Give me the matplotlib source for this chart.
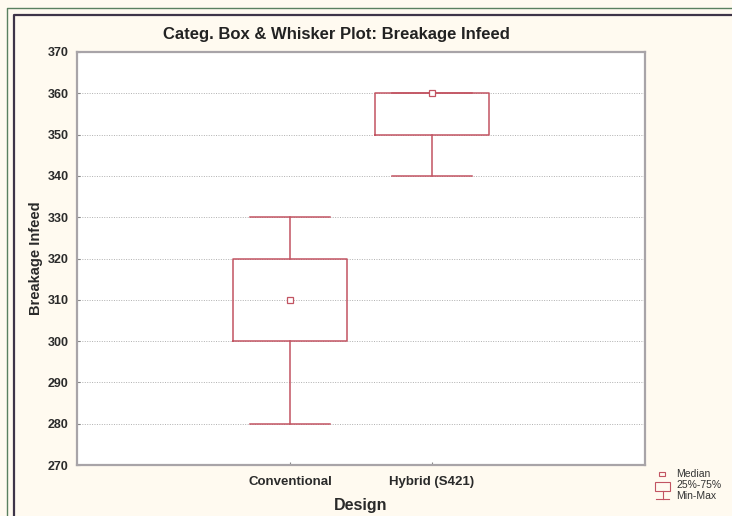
import matplotlib
matplotlib.use("Agg")
from matplotlib import pyplot as plt
from matplotlib.patches import Rectangle
from matplotlib.lines import Line2D

plt.rcParams["font.family"] = ["Liberation Sans", "DejaVu Sans"]

designs = ["Conventional", "Hybrid (S421)"]
mins = [280, 340]
q1s = [300, 350]
medians = [310, 360]
q3s = [320, 360]
maxs = [330, 360]
yticks = list(range(270, 371, 10))

box_color = "#c25462"
bg = "#fffaf0"

fig = plt.figure(figsize=(7.32, 5.16), dpi=100, facecolor=bg)
ax = fig.add_axes([77 / 732, 1 - 465 / 516, 568 / 732, 413 / 516])
ax.set_facecolor("white")

stats = []
for name, lo, a, m, b, hi in zip(designs, mins, q1s, medians, q3s, maxs):
    stats.append({"label": name, "whislo": lo, "q1": a, "med": m,
                  "q3": b, "whishi": hi, "fliers": []})

pos = list(range(len(designs)))
ax.bxp(stats, positions=pos, widths=0.8, showcaps=True,
       boxprops=dict(color=box_color, lw=1.1),
       whiskerprops=dict(color=box_color, lw=1.1),
       capprops=dict(color=box_color, lw=1.1),
       medianprops=dict(lw=0),
       capwidths=0.56)
ax.plot(pos, medians, ls="none", marker="s", ms=4.5, mfc="white",
        mec=box_color, mew=0.9, zorder=5)

ax.set_xlim(-1.5, 2.5)
ax.set_ylim(270, 370)
ax.set_yticks(yticks)
ax.set_xticks(pos)
ax.set_xticklabels(designs)
ax.grid(axis="y", color="#b0b0b0", ls=(0, (1, 1.5)), lw=0.7)
ax.set_axisbelow(True)
for s in ax.spines.values():
    s.set_color("#a8a4a8")
    s.set_linewidth(1.6)
ax.tick_params(direction="in", length=2.5, color="#888888",
               labelsize=9, labelcolor="#2a2a2a", pad=6)
ax.tick_params(axis="x", labelsize=9.5, pad=8)
for t in ax.get_xticklabels() + ax.get_yticklabels():
    t.set_fontweight("bold")

ax.set_xlabel("Design", fontsize=11.5, fontweight="bold", color="#2a2a2a", labelpad=7)
ax.set_ylabel("Breakage Infeed", fontsize=10.5, fontweight="bold", color="#2a2a2a", labelpad=3)

fig.text(336 / 732, 1 - 34 / 516, "Categ. Box & Whisker Plot: Breakage Infeed",
         ha="center", va="center", fontsize=12, fontweight="bold", color="#222222")

# outer frames
fig.add_artist(Line2D([7 / 732, 7 / 732, 1], [0, 1 - 8 / 516, 1 - 8 / 516],
                      transform=fig.transFigure, color="#5a8060", lw=1.0))
fig.add_artist(Line2D([13.5 / 732, 13.5 / 732, 1], [0, 1 - 14.5 / 516, 1 - 14.5 / 516],
                      transform=fig.transFigure, color="#3e3448", lw=1.6))

# legend
def fx(x):
    return x / 732

def fy(y):
    return 1 - y / 516

fig.add_artist(Rectangle((fx(659), fy(476)), fx(6), 4 / 516, transform=fig.transFigure,
                         fill=False, ec=box_color, lw=0.8))
fig.add_artist(Rectangle((fx(655), fy(491)), fx(15), 9 / 516, transform=fig.transFigure,
                         fill=False, ec=box_color, lw=0.8))
fig.add_artist(Line2D([fx(662.5), fx(662.5)], [fy(491), fy(499)],
                      transform=fig.transFigure, color=box_color, lw=0.8))
fig.add_artist(Line2D([fx(656), fx(669)], [fy(499), fy(499)],
                      transform=fig.transFigure, color=box_color, lw=0.8))
for yy, txt in [(474, "Median"), (485, "25%-75%"), (496, "Min-Max")]:
    fig.text(fx(676), fy(yy), txt, ha="left", va="center", fontsize=7.5, color="#333333")

fig.savefig("out.png", dpi=100, facecolor=bg)
